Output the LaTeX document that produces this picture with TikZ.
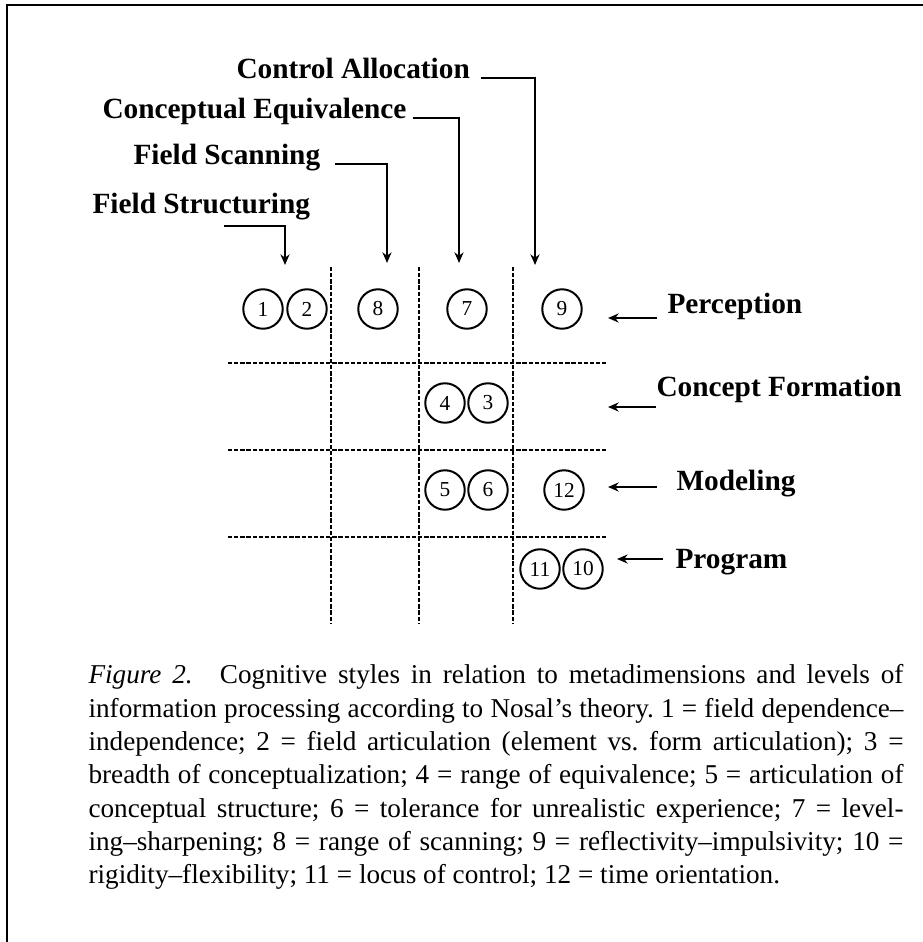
\documentclass[tikz,border=0pt]{standalone}
\usepackage{fontspec}
\setmainfont{Liberation Serif}
\usetikzlibrary{arrows.meta}
\frenchspacing

\tikzset{
  gridline/.style={line width=0.95pt, dash pattern=on 1.6pt off 0.7pt},
  cog/.style={circle, draw, line width=0.75pt, minimum size=14.8pt, inner sep=0pt,
    font=\fontsize{8}{8}\selectfont},
  lbl/.style={inner sep=0pt, anchor=base west, font=\fontsize{11}{13}\selectfont\bfseries},
  arr/.style={line width=0.7pt, -{Stealth[length=4pt,width=3.4pt]}},
}

\begin{document}
\begin{tikzpicture}[x=0.375pt, y=-0.375pt]
    \useasboundingbox (0,0) rectangle (923,942);
    % Frame
    \draw[line width=1pt] (7,942) -- (7,5) -- (923,5);

    % Grid
    \foreach \x in {331,419,513}
        \draw[gridline] (\x,267) -- (\x,623);
    \foreach \y in {363,450,537}
        \draw[gridline] (228,\y) -- (608,\y);

    % Cognitive styles
    \foreach \x/\y/\n in {263/309/1, 307/309/2, 378/309/8, 467/309/7, 562/309/9,
        445/403/4, 488/403/3, 445/490/5, 488/490/6, 564/490/12, 540/569/11, 583/569/10}
        \node[cog] (c\n) at (\x,\y) {\n};

    % Metadimensions
    \node[lbl] (ca) at (236,78) {Control Allocation};
    \node[lbl] (ce) at (102,118) {Conceptual Equivalence};
    \node[lbl] (fsc) at (133,164) {Field Scanning};
    \node[lbl] (fst) at (92,213) {Field Structuring};
    \coordinate (tipCA) at (535,265);
    \coordinate (tipCE) at (459,263);
    \coordinate (tipFSc) at (387,263);
    \coordinate (tipFSt) at (285,265);
    \draw[arr] ([xshift=4.1pt]ca.base east) -| (tipCA);
    \draw[arr] ([xshift=2.2pt]ce.base east) -| (tipCE);
    \draw[arr] ([xshift=5.2pt]fsc.base east) -| (tipFSc);
    \draw[arr] ([xshift=49.5pt,yshift=-4.9pt]fst.base west) -| (tipFSt);

    % Levels of processing
    \node[lbl] (perc) at (667,313) {Perception};
    \node[lbl] (cf) at (656,396) {Concept Formation};
    \node[lbl] (mod) at (676,490) {Modeling};
    \node[lbl] (prog) at (675,568) {Program};
    \coordinate (tipP) at (608,318);
    \coordinate (tipCF) at (608,407);
    \coordinate (tipM) at (608,487);
    \coordinate (tipPr) at (617,559);
    \draw[arr] ([xshift=-3.75pt]perc.west |- tipP) -- (tipP);
    \draw[arr] ([xshift=0pt]cf.west |- tipCF) -- (tipCF);
    \draw[arr] ([xshift=-7.1pt]mod.west |- tipM) -- (tipM);
    \draw[arr] ([xshift=-4.5pt]prog.west |- tipPr) -- (tipPr);

    % Caption
    \node[anchor=north west, inner sep=0pt, text width=305.6pt, align=justify,
        font=\fontsize{10.2}{12.5}\selectfont] (caption) at (88,664)
        {\textit{Figure 2.}\hspace{1em}Cognitive styles in relation to metadimensions and levels of\linebreak
        information processing according to Nosal's theory. 1 = field dependence--\linebreak
        independence; 2 = field articulation (element vs. form articulation); 3 =\linebreak
        breadth of conceptualization; 4 = range of equivalence; 5 = articulation of\linebreak
        conceptual structure; 6 = tolerance for unrealistic experience; 7 = level-\linebreak
        ing--sharpening; 8 = range of scanning; 9 = reflectivity--impulsivity; 10 =\linebreak
        rigidity--flexibility; 11 = locus of control; 12 = time orientation.};
\end{tikzpicture}
\end{document}
